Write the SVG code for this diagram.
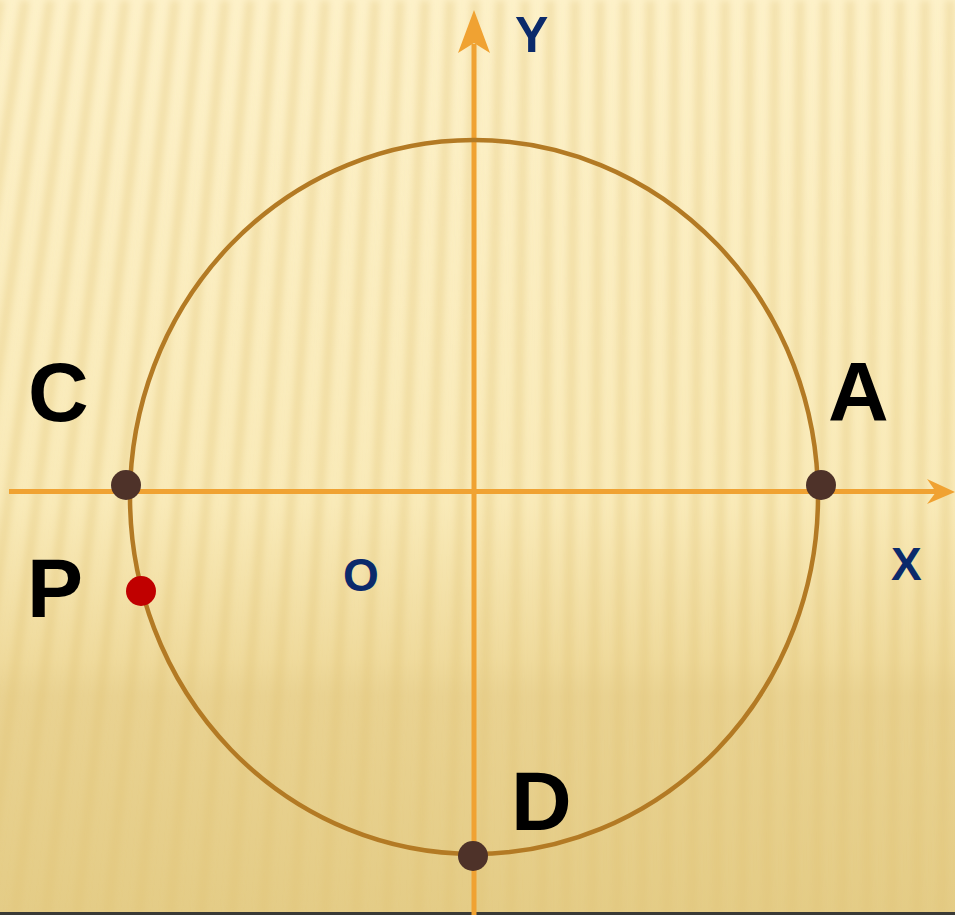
<svg xmlns="http://www.w3.org/2000/svg" width="955" height="915" viewBox="0 0 955 915">
  <defs>
    <linearGradient id="bg" x1="0" y1="0" x2="0" y2="1">
      <stop offset="0" stop-color="#FDF1C9"/>
      <stop offset="0.55" stop-color="#F9EAB8"/>
      <stop offset="0.72" stop-color="#EFDA9C"/>
      <stop offset="0.76" stop-color="#E9D291"/>
      <stop offset="1" stop-color="#E4CC86"/>
    </linearGradient>
    <filter id="soft" x="-10%" y="-10%" width="120%" height="120%">
      <feGaussianBlur stdDeviation="3.5"/>
    </filter>
    <style>
      .stripe { stroke: #E0C274; stroke-width: 9; stroke-opacity: 0.36; fill: none; }
      .axis { stroke: #F0A232; stroke-width: 5; fill: none; }
      .head { fill: #F0A232; }
      .ring { stroke: #B37A24; stroke-width: 4.5; fill: none; }
      .dot { fill: #4E3229; }
      .red { fill: #C00000; }
      .big { font-family: "Liberation Sans", Arial, sans-serif; font-weight: bold; font-size: 84px; fill: #000000; }
      .ax { font-family: "Liberation Sans", Arial, sans-serif; font-weight: bold; fill: #0B2A6B; }
    </style>
  </defs>

  <g id="background">
    <rect x="0" y="0" width="955" height="915" fill="url(#bg)"/>
    <g filter="url(#soft)">
      <path class="stripe" d="M-250 0 L-450 915 M-225 0 L-419 915 M-200 0 L-388 915 M-175 0 L-356 915 M-150 0 L-325 915 M-125 0 L-294 915 M-100 0 L-263 915 M-75 0 L-231 915 M-50 0 L-200 915 M-25 0 L-169 915 M0 0 L-140 915 M25 0 L-109 915 M50 0 L-78 915 M75 0 L-47 915 M100 0 L-16 915 M125 0 L15 915 M150 0 L46 915 M175 0 L77 915 M200 0 L108 915 M225 0 L139 915 M250 0 L170 915 M275 0 L201 915 M300 0 L232 915 M325 0 L263 915 M350 0 L294 915 M375 0 L325 915 M400 0 L356 915 M425 0 L387 915 M450 0 L418 915 M475 0 L449 915 M500 0 L480 915 M525 0 L511 915 M550 0 L542 915 M575 0 L566 915 M600 0 L592 915 M625 0 L617 915 M650 0 L642 915 M675 0 L667 915 M700 0 L692 915 M725 0 L717 915 M750 0 L742 915 M775 0 L767 915 M800 0 L792 915 M825 0 L817 915 M850 0 L842 915 M875 0 L867 915 M900 0 L892 915 M925 0 L917 915 M950 0 L942 915 M975 0 L967 915"/>
    </g>
    <rect x="0" y="912" width="955" height="3" fill="#3A3A36"/>
  </g>

  <g id="connectors">
    <line class="axis" x1="9" y1="491.5" x2="936" y2="491.5"/>
    <polygon class="head" points="955,492 927,479 936,492 927,504"/>
    <line class="axis" x1="474" y1="915" x2="474" y2="44"/>
    <polygon class="head" points="474,10 490,53 474,43 458,53"/>
  </g>

  <g id="circle">
    <ellipse class="ring" cx="474" cy="497" rx="344" ry="357"/>
  </g>

  <g id="node-C">
    <circle class="dot" cx="126" cy="485" r="15"/>
    <text class="big" x="28" y="421">C</text>
  </g>
  <g id="node-A">
    <circle class="dot" cx="821" cy="485" r="15"/>
    <text class="big" x="828" y="421">A</text>
  </g>
  <g id="node-D">
    <circle class="dot" cx="473" cy="856" r="15"/>
    <text class="big" x="511" y="830">D</text>
  </g>
  <g id="node-P">
    <circle class="red" cx="141" cy="591" r="15"/>
    <text class="big" x="27" y="617">P</text>
  </g>

  <g id="axis-labels">
    <text class="ax" x="515" y="52" font-size="50">Y</text>
    <text class="ax" x="891" y="580" font-size="46">X</text>
    <text class="ax" x="343" y="591" font-size="46">O</text>
  </g>
</svg>
